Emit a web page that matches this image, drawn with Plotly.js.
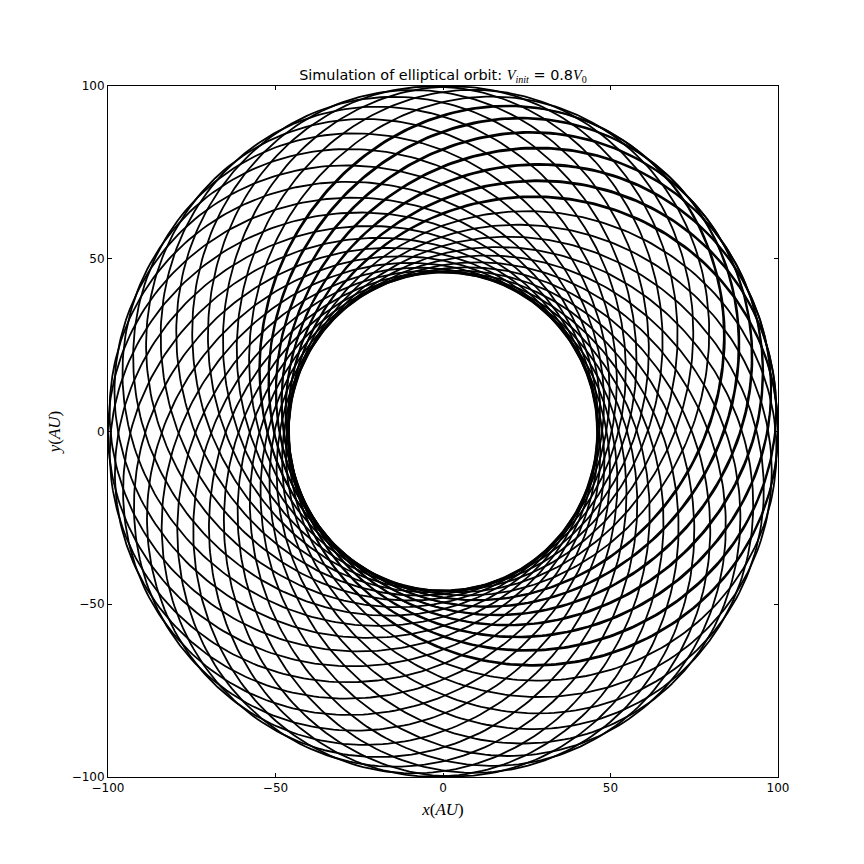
<!DOCTYPE html>
<html><head><meta charset="utf-8">
<script src="https://cdn.plot.ly/plotly-3.0.1.min.js"></script>
<style>html,body{margin:0;padding:0;background:#fff}#chart{width:864px;height:864px}</style>
</head><body><div id="chart"></div>
<script>
// Orbit values
const aphelionAU = [100];
const perihelionAU = [46];
// Direction of aphelion (degrees) of each successive orbit (slow precession)
const apsisAngleDeg = [0, 9.49, 18.98, 28.47, 37.96, 47.45, 56.94, 66.43, 75.92, 85.41,
  94.9, 104.39, 113.88, 123.37, 132.86, 142.35, 151.84, 161.33, 170.82, 180.31,
  189.8, 199.29, 208.78, 218.27, 227.76, 237.25, 246.74, 256.23, 265.72, 275.21,
  284.7, 294.19, 303.68, 313.17, 322.66, 332.15, 341.64, 351.13, 360.62, 370.11,
  379.6, 389.09, 398.58, 408.07, 417.56];
const tickValues = [-100, -50, 0, 50, 100];
const tickLabels = ['\u2212100', '\u221250', '0', '50', '100'];

const ra = aphelionAU[0], rp = perihelionAU[0];
const ecc = (ra - rp) / (ra + rp);
const semiLatus = 2 * ra * rp / (ra + rp);
const xs = [], ys = [];
apsisAngleDeg.forEach(function (w) {
  const wr = w * Math.PI / 180;
  for (let d = 0; d <= 360; d += 1) {
    const th = d * Math.PI / 180;
    const r = semiLatus / (1 - ecc * Math.cos(th));
    xs.push(r * Math.cos(th + wr));
    ys.push(r * Math.sin(th + wr));
  }
  xs.push(null); ys.push(null);
});

const trace = {
  type: 'scatter', mode: 'lines', x: xs, y: ys, connectgaps: false,
  line: {color: 'black', width: 1.8}, hoverinfo: 'skip'
};

const serif = "'Liberation Serif', 'DejaVu Serif', serif";
const axisCommon = {
  range: [-100, 100], tickmode: 'array', tickvals: tickValues, ticktext: tickLabels,
  ticks: 'inside', ticklen: 4, tickwidth: 1, tickcolor: 'black',
  showline: true, linecolor: 'black', linewidth: 1, mirror: 'ticks',
  showgrid: false, zeroline: false, automargin: false, fixedrange: true,
  tickfont: {family: 'DejaVu Sans', size: 12, color: 'black'}
};

const layout = {
  width: 864, height: 864,
  margin: {l: 108, r: 86, t: 86, b: 87},
  paper_bgcolor: 'white', plot_bgcolor: 'white', showlegend: false,
  title: {
    text: "Simulation of elliptical orbit: <span style=\"font-family:" + serif + "\"><i>V</i><sub><i>init</i></sub></span> = 0.8<span style=\"font-family:" + serif + "\"><i>V</i><sub>0</sub></span>",
    font: {family: 'DejaVu Sans', size: 14.4, color: 'black'},
    xref: 'paper', x: 0.5, xanchor: 'center',
    yref: 'container', y: 1 - 80 / 864, yanchor: 'bottom'
  },
  xaxis: Object.assign({}, axisCommon, {
    title: {text: '<i>x</i>(<i>AU</i>)', font: {family: serif, size: 17, color: 'black'}, standoff: 8}
  }),
  yaxis: Object.assign({}, axisCommon, {
    title: {text: '<i>y</i>(<i>AU</i>)', font: {family: serif, size: 17, color: 'black'}, standoff: 6}
  })
};

Plotly.newPlot('chart', [trace], layout, {displayModeBar: false, staticPlot: true});
</script>
</body></html>
